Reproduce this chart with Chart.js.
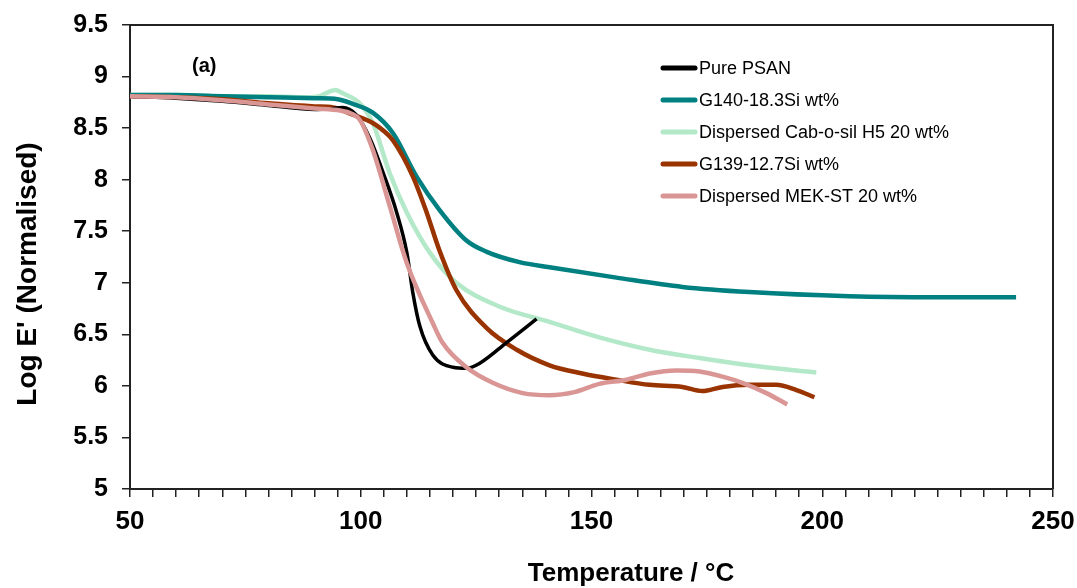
<!DOCTYPE html>
<html>
<head>
<meta charset="utf-8">
<title>Log E' vs Temperature</title>
<script src="https://cdn.jsdelivr.net/npm/chart.js@4.4.1/dist/chart.umd.min.js"></script>
<style>
  body { margin: 0; background: #fff; }
  canvas { display: block; }
</style>
</head>
<body>
<canvas id="dmaChart" width="1077" height="588"></canvas>
<script>
// temperature (°C) and log E'
const psanT = [50, 60, 70, 80, 90, 94, 96, 99, 102, 105, 107.8, 110, 111.3, 112.8, 115.6, 120, 122.9, 125.8, 131.6, 138.1];
const psanE = [8.81, 8.79, 8.76, 8.72, 8.68, 8.69, 8.70, 8.63, 8.40, 8.05, 7.68, 7.29, 6.90, 6.58, 6.30, 6.18, 6.17, 6.22, 6.42, 6.65];

const g140T = [50, 60, 70, 80, 90, 95, 98, 102.6, 107, 112.1, 117, 122.9, 127.3, 134.4, 140.9, 155.4, 169.7, 184.2, 205.8, 225, 242];
const g140E = [8.82, 8.82, 8.81, 8.80, 8.79, 8.78, 8.74, 8.65, 8.45, 8.03, 7.71, 7.41, 7.30, 7.20, 7.15, 7.05, 6.96, 6.91, 6.87, 6.86, 6.86];

const cabT = [50, 60, 70, 80, 88, 91, 93, 94.5, 96, 99.8, 102.6, 106.3, 110, 115, 120.7, 130, 140.9, 151.7, 162.6, 173.4, 184.2, 198.7];
const cabE = [8.82, 8.82, 8.81, 8.81, 8.80, 8.81, 8.85, 8.87, 8.84, 8.74, 8.55, 8.06, 7.68, 7.29, 7.00, 6.77, 6.62, 6.47, 6.35, 6.27, 6.20, 6.13];

const g139T = [50, 60, 70, 80, 90, 94, 98.3, 102.6, 104.8, 107, 111.3, 114.3, 117, 120.7, 127.3, 133.8, 140.9, 148, 155.4, 162.6, 169.7, 174, 178.4, 184.2, 190, 194.4, 198.3];
const g139E = [8.81, 8.80, 8.78, 8.74, 8.71, 8.70, 8.63, 8.55, 8.48, 8.38, 8.03, 7.68, 7.32, 6.93, 6.56, 6.35, 6.20, 6.12, 6.06, 6.01, 5.99, 5.95, 5.99, 6.01, 6.01, 5.96, 5.89];

const mekT = [50, 60, 70, 80, 90, 95.5, 98, 99.8, 102.6, 106.3, 110, 115.6, 117.7, 122.9, 128.6, 135.1, 140.9, 146.3, 151.7, 157.6, 162.6, 168.4, 173.4, 178.4, 182.7, 187.9, 192.4];
const mekE = [8.81, 8.80, 8.77, 8.73, 8.69, 8.67, 8.64, 8.58, 8.29, 7.74, 7.19, 6.61, 6.42, 6.18, 6.03, 5.93, 5.91, 5.94, 6.02, 6.06, 6.12, 6.15, 6.14, 6.09, 6.03, 5.93, 5.82];

const seriesNames = ["Pure PSAN", "G140-18.3Si wt%", "Dispersed Cab-o-sil H5 20 wt%", "G139-12.7Si wt%", "Dispersed MEK-ST 20 wt%"];
const seriesColors = ["#000000", "#008080", "#b3e8c9", "#993300", "#da9694"];

function toPoints(xs, ys) {
    return xs.map((x, i) => ({ x: x, y: ys[i] }));
}

const allT = [psanT, g140T, cabT, g139T, mekT];
const allE = [psanE, g140E, cabE, g139E, mekE];
const drawOrder = [2, 4, 5, 3, 1]; // lower = drawn on top

const datasets = seriesNames.map((name, i) => ({
    label: name,
    data: toPoints(allT[i], allE[i]),
    borderColor: seriesColors[i],
    backgroundColor: seriesColors[i],
    borderWidth: i === 0 ? 3.5 : 4.5,
    pointRadius: 0,
    cubicInterpolationMode: 'monotone',
    fill: false,
    order: drawOrder[i]
}));

const fam = '"Liberation Sans", Arial, sans-serif';

// box around plot, axis titles, the "(a)" tag and the in-plot legend
const framePlugin = {
    id: 'frame',
    afterDraw(chart) {
        const ctx = chart.ctx;
        const a = chart.chartArea;
        ctx.save();
        ctx.strokeStyle = '#222';
        ctx.lineWidth = 2;
        ctx.beginPath();
        ctx.moveTo(a.left, a.top);
        ctx.lineTo(a.right, a.top);
        ctx.lineTo(a.right, a.bottom);
        ctx.stroke();

        ctx.fillStyle = '#000';
        ctx.textBaseline = 'middle';
        ctx.textAlign = 'center';
        ctx.font = 'bold 26px ' + fam;
        ctx.fillText('Temperature / °C', 631, 574);

        ctx.save();
        ctx.translate(28, 274);
        ctx.rotate(-Math.PI / 2);
        ctx.font = 'bold 28px ' + fam;
        ctx.fillText("Log E' (Normalised)", 0, 0);
        ctx.restore();

        ctx.textAlign = 'left';
        ctx.font = 'bold 20px ' + fam;
        ctx.fillText('(a)', 192, 66);

        ctx.font = '18px ' + fam;
        const rows = [68, 100, 132, 164, 196];
        chart.data.datasets.forEach((ds, i) => {
            ctx.strokeStyle = ds.borderColor;
            ctx.lineWidth = 5;
            ctx.lineCap = 'round';
            ctx.beginPath();
            ctx.moveTo(663, rows[i]);
            ctx.lineTo(695, rows[i]);
            ctx.stroke();
            ctx.fillText(ds.label, 699, rows[i] + 1);
        });
        ctx.restore();
    }
};

new Chart(document.getElementById('dmaChart'), {
    type: 'line',
    data: { datasets: datasets },
    options: {
        responsive: false,
        animation: false,
        layout: { padding: { top: 25, right: 0, left: 0, bottom: 0 } },
        plugins: {
            legend: { display: false },
            tooltip: { enabled: false }
        },
        scales: {
            x: {
                type: 'linear',
                min: 50,
                max: 250,
                border: { display: true, color: '#222', width: 2 },
                grid: { drawOnChartArea: false, drawTicks: true, tickLength: 8, color: '#222', lineWidth: 1.5 },
                ticks: {
                    stepSize: 5,
                    autoSkip: false,
                    maxRotation: 0,
                    padding: 9,
                    color: '#000',
                    font: { family: fam, size: 26, weight: 'bold' },
                    callback: v => (v % 50 === 0 ? String(v) : '')
                },
                afterFit(scale) {
                    scale.height = 99;
                    scale.paddingRight = 24;
                }
            },
            y: {
                min: 5,
                max: 9.5,
                border: { display: true, color: '#222', width: 2 },
                grid: { drawOnChartArea: false, drawTicks: true, tickLength: 8, color: '#222', lineWidth: 1.5 },
                ticks: {
                    stepSize: 0.5,
                    padding: 14,
                    color: '#000',
                    font: { family: fam, size: 25, weight: 'bold' },
                    callback: v => String(v)
                },
                afterFit(scale) {
                    scale.width = 130;
                    scale.paddingTop = 0;
                    scale.paddingBottom = 0;
                }
            }
        }
    },
    plugins: [framePlugin]
});
</script>
</body>
</html>
